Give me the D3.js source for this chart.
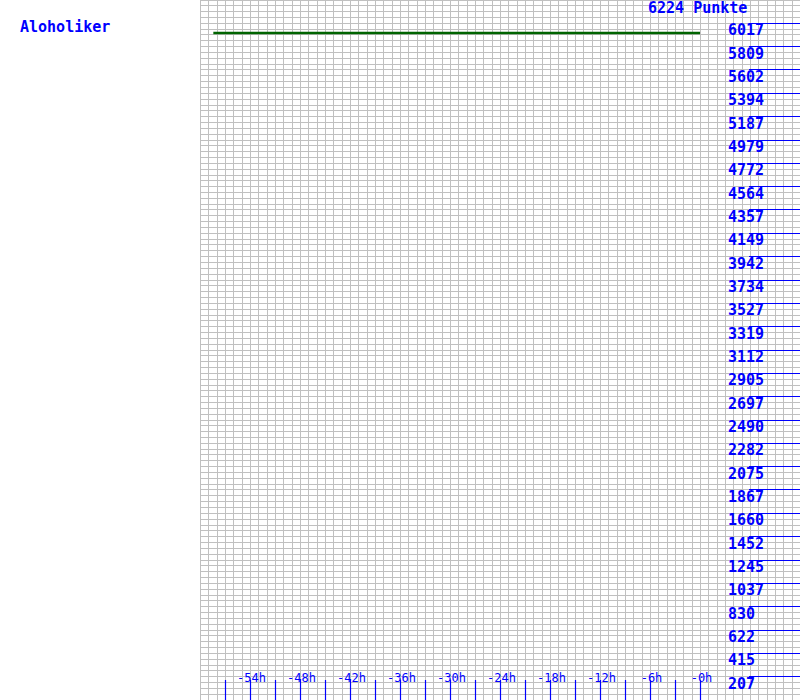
<!DOCTYPE html>
<html>
<head>
<meta charset="utf-8">
<script src="https://cdn.jsdelivr.net/npm/d3@7"></script>
<style>
  html, body { margin: 0; padding: 0; background: #ffffff; }
  svg { display: block; }
</style>
</head>
<body>
<script>
// ---- data ----
const playerName = "Aloholiker";
const currentPoints = 6224;
const pointsUnit = "Punkte";
// series: hours relative to now, points
const seriesHours = [-58.4, -54, -48, -42, -36, -30, -24, -18, -12, -6, 0];
const seriesPoints = [5930, 5930, 5930, 5930, 5930, 5930, 5930, 5930, 5930, 5930, 5930];
// y tick labels (points)
const yTickLabels = ["207","415","622","830","1037","1245","1452","1660","1867","2075","2282","2490","2697","2905","3112","3319","3527","3734","3942","4149","4357","4564","4772","4979","5187","5394","5602","5809","6017"];
const yTickValues = [207.47,414.93,622.4,829.87,1037.33,1244.8,1452.27,1659.73,1867.2,2074.67,2282.13,2489.6,2697.07,2904.53,3112,3319.47,3526.93,3734.4,3941.87,4149.33,4356.8,4564.27,4771.73,4979.2,5186.67,5394.13,5601.6,5809.07,6016.53];
// x tick labels (hours)
const xLabelHours = [-54, -48, -42, -36, -30, -24, -18, -12, -6, 0];
const xLabelTexts = ["-54h","-48h","-42h","-36h","-30h","-24h","-18h","-12h","-6h","-0h"];
const xTickHours = [-57,-54,-51,-48,-45,-42,-39,-36,-33,-30,-27,-24,-21,-18,-15,-12,-9,-6,-3,0];

// ---- chart ----
const W = 800, H = 700;
const blue = "#0000ff";
const svg = d3.select("body").append("svg").attr("width", W).attr("height", H);

const x = d3.scaleLinear().domain([-60, 12]).range([200, 800]);
const y = d3.scaleLinear().domain([0, currentPoints]).range([700, 0]);

const crisp = v => Math.round(v) + 0.5;

// grid
const gridG = svg.append("g").attr("stroke", "#c0c0c0").attr("stroke-width", 1);
gridG.selectAll("line.v").data(d3.range(-60, 12, 1)).join("line")
  .attr("x1", d => crisp(x(d))).attr("x2", d => crisp(x(d)))
  .attr("y1", 0).attr("y2", H);
gridG.selectAll("line.h").data(d3.range(1, 121).map(k => k * currentPoints / 120)).join("line")
  .attr("x1", 200).attr("x2", W)
  .attr("y1", d => crisp(y(d) - 0.5)).attr("y2", d => crisp(y(d) - 0.5));

// y ticks
const yG = svg.append("g");
yG.selectAll("line").data(yTickValues).join("line")
  .attr("x1", 749).attr("x2", W)
  .attr("y1", d => crisp(y(d) - 0.5)).attr("y2", d => crisp(y(d) - 0.5))
  .attr("stroke", blue).attr("stroke-width", 1);
yG.selectAll("text").data(yTickValues).join("text")
  .attr("x", 728).attr("y", d => y(d) + 12)
  .attr("fill", blue)
  .style("font-family", "'DejaVu Sans Mono', monospace")
  .style("font-size", "15px").style("font-weight", "bold")
  .text((d, i) => yTickLabels[i]);

// x ticks
const xG = svg.append("g");
xG.selectAll("line").data(xTickHours).join("line")
  .attr("x1", d => crisp(x(d))).attr("x2", d => crisp(x(d)))
  .attr("y1", 680).attr("y2", H)
  .attr("stroke", blue).attr("stroke-width", 1.2);
xG.selectAll("text").data(xLabelHours).join("text")
  .attr("x", d => x(d) + 1.5).attr("y", 682)
  .attr("text-anchor", "middle")
  .attr("fill", blue)
  .style("font-family", "'DejaVu Sans Mono', monospace")
  .style("font-size", "12px")
  .text((d, i) => xLabelTexts[i]);

// series line
const line = d3.line().x(d => x(d[0])).y(d => y(d[1]));
svg.append("path")
  .datum(seriesHours.map((h, i) => [h, seriesPoints[i]]))
  .attr("d", line)
  .attr("fill", "none")
  .attr("stroke", "#006400")
  .attr("stroke-width", 2.5);

// titles
svg.append("text").attr("x", 20).attr("y", 32)
  .attr("fill", blue)
  .style("font-family", "'DejaVu Sans Mono', monospace")
  .style("font-size", "15px").style("font-weight", "bold")
  .text(playerName);
svg.append("text").attr("x", 648).attr("y", 12.5)
  .attr("fill", blue)
  .style("font-family", "'DejaVu Sans Mono', monospace")
  .style("font-size", "15px").style("font-weight", "bold")
  .text(currentPoints + " " + pointsUnit);
</script>
</body>
</html>
